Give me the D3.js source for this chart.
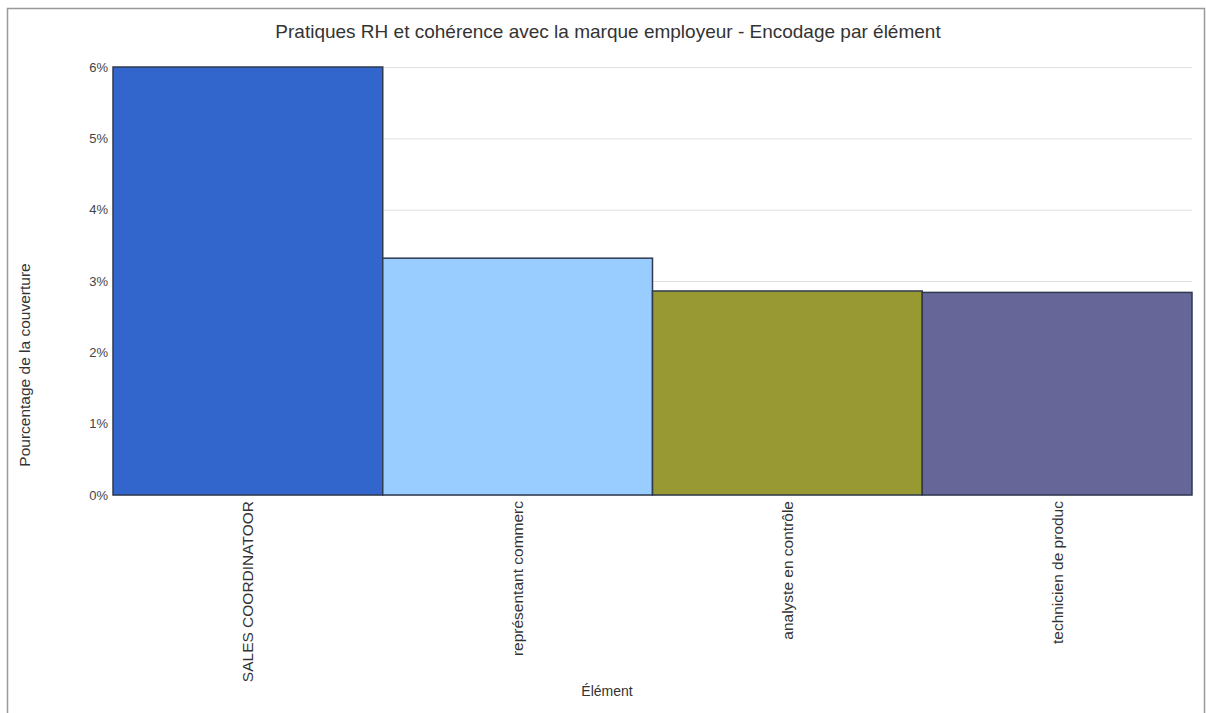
<!DOCTYPE html>
<html>
<head>
<meta charset="utf-8">
<script src="https://cdn.jsdelivr.net/npm/d3@7"></script>
<style>
  body { margin: 0; background: #fff; }
  text { font-family: "Liberation Sans", Arial, sans-serif; fill: #333; }
</style>
</head>
<body>
<svg width="1206" height="713"></svg>
<script>
var categories = ["SALES COORDINATOOR", "représentant commerc", "analyste en contrôle", "technicien de produc"];
var values = [6.0, 3.32, 2.86, 2.84];
var colors = ["#3366cc", "#99ccff", "#999933", "#666699"];
var yTicks = [0, 1, 2, 3, 4, 5, 6];

var svg = d3.select("svg"),
    width = +svg.attr("width"),
    height = +svg.attr("height");

var margin = {top: 67, right: 14, bottom: 218, left: 113};

// outer frame
svg.append("rect")
    .attr("x", 7.5).attr("y", 8.5)
    .attr("width", 1197).attr("height", 720)
    .attr("fill", "none")
    .attr("stroke", "#999")
    .attr("stroke-width", 1.5);

var x = d3.scaleBand()
    .domain(categories)
    .range([margin.left, width - margin.right])
    .padding(0);

var y = d3.scaleLinear()
    .domain([0, 6])
    .range([height - margin.bottom, margin.top]);

// gridlines
svg.append("g")
    .selectAll("line")
    .data(yTicks)
    .enter().append("line")
      .attr("x1", margin.left)
      .attr("x2", width - margin.right)
      .attr("y1", function(d) { return y(d) + 0.5; })
      .attr("y2", function(d) { return y(d) + 0.5; })
      .attr("stroke", "#e0e0e0")
      .attr("stroke-width", 1);

// y axis labels
var yAxis = d3.axisLeft(y)
    .tickValues(yTicks)
    .tickSize(0)
    .tickPadding(5)
    .tickFormat(function(d) { return d + "%"; });

svg.append("g")
    .attr("transform", "translate(" + margin.left + ",0)")
    .call(yAxis)
    .call(function(g) { g.select(".domain").remove(); })
    .selectAll("text")
      .style("font-family", "Liberation Sans, Arial, sans-serif")
      .style("font-size", "13px")
      .style("fill", "#444");

// bars
svg.append("g")
    .selectAll("rect")
    .data(values)
    .enter().append("rect")
      .attr("x", function(d, i) { return x(categories[i]); })
      .attr("y", function(d) { return y(d); })
      .attr("width", x.bandwidth())
      .attr("height", function(d) { return y(0) - y(d); })
      .attr("fill", function(d, i) { return colors[i]; })
      .attr("stroke", "#2f3a4f")
      .attr("stroke-width", 1.5);

// x axis labels
var xAxis = d3.axisBottom(x).tickSize(0).tickPadding(6);
svg.append("g")
    .attr("transform", "translate(0," + y(0) + ")")
    .call(xAxis)
    .call(function(g) { g.select(".domain").remove(); })
    .selectAll("text")
      .attr("transform", "rotate(-90)")
      .attr("x", -6)
      .attr("y", 0)
      .attr("dy", "0.35em")
      .style("text-anchor", "end")
      .style("font-family", "Liberation Sans, Arial, sans-serif")
      .style("font-size", "15.5px")
      .style("fill", "#333");

// title
svg.append("text")
    .attr("x", 608)
    .attr("y", 38)
    .attr("text-anchor", "middle")
    .style("font-size", "19px")
    .text("Pratiques RH et cohérence avec la marque employeur - Encodage par élément");

// axis titles
svg.append("text")
    .attr("x", 607)
    .attr("y", 696)
    .attr("text-anchor", "middle")
    .style("font-size", "14px")
    .text("Élément");

svg.append("text")
    .attr("transform", "translate(30,365) rotate(-90)")
    .attr("text-anchor", "middle")
    .style("font-size", "15.5px")
    .text("Pourcentage de la couverture");
</script>
</body>
</html>
